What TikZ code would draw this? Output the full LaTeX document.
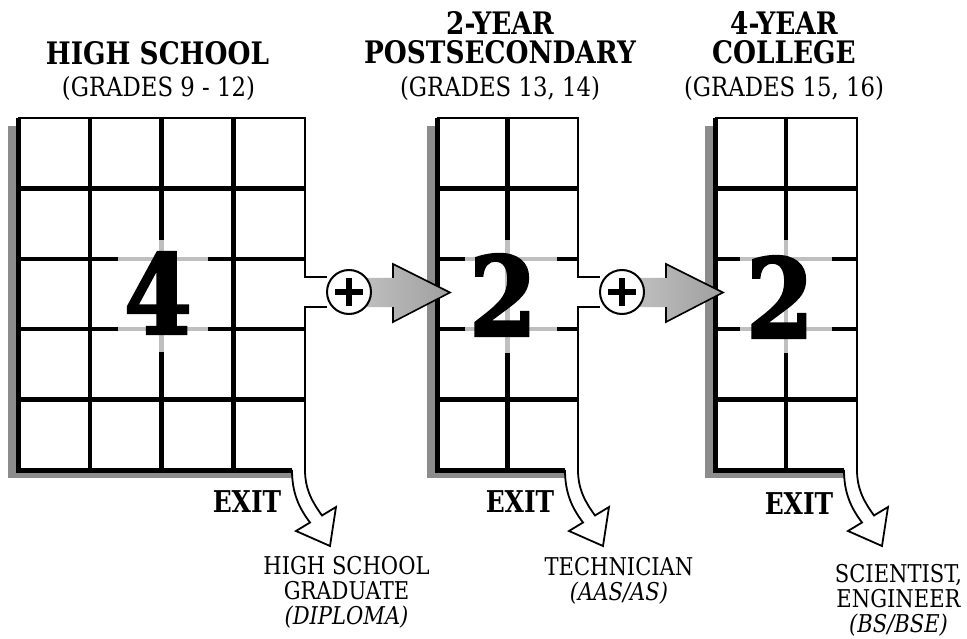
\documentclass[tikz,border=0pt]{standalone}
\usepackage{fontspec}
\setmainfont{DejaVu Serif}
\newfontfamily\headfont[FakeStretch=0.85]{DejaVu Serif}
\newfontfamily\gradefont[FakeStretch=0.86]{DejaVu Serif}
\newfontfamily\labelfont[FakeStretch=0.86]{DejaVu Serif}
\newfontfamily\exitfont[FakeStretch=0.83]{DejaVu Serif}
\newfontfamily\numfont[FakeStretch=0.88, FakeBold=2.5]{DejaVu Serif}

\begin{document}
\begin{tikzpicture}[
        x=1pt,
        y=-1pt,
        gridline/.style={line width=4.5pt},
        ghostline/.style={line width=4.5pt, black!25},
        heavyedge/.style={line width=5pt},
        thinedge/.style={line width=2pt},
        shadow/.style={fill=black!45},
        heading/.style={font=\headfont\bfseries\fontsize{31}{29}\selectfont, align=center, inner sep=0pt},
        grades/.style={font=\gradefont\fontsize{26.5}{30}\selectfont, inner sep=0pt},
        number/.style={font=\numfont\bfseries\fontsize{110}{110}\selectfont, inner sep=0pt},
        plus/.style={circle, draw, line width=2pt, fill=white, minimum size=44pt, inner sep=0pt},
        plusbar/.style={line width=6.5pt},
        headline/.style={line width=1.6pt, line join=miter},
        exitarrow/.style={fill=white, draw, line width=1.8pt, line join=miter},
        exitlabel/.style={font=\exitfont\bfseries\fontsize{30}{30}\selectfont, inner sep=0pt},
        outcome/.style={font=\labelfont\fontsize{24.5}{25}\selectfont, align=center, inner sep=0pt}
    ]
        \fill[white] (0,0) rectangle (967,639);
        \useasboundingbox (0,0) rectangle (967,639);

        % high school grid
        \fill[shadow] (8,126) rectangle (293,478);
        \fill[white] (18,118) rectangle (305,470);
        \foreach \x in {89.75,161.5,233.25} {
            \draw[gridline] (\x,118) -- (\x,470);
        }
        \foreach \y in {188.4,258.8,329.2,399.6} {
            \draw[gridline] (18,\y) -- (305,\y);
        }
        \fill[white] (118,240) rectangle (208,352);
        \draw[ghostline] (118,258.8) -- (208,258.8) (118,329.2) -- (208,329.2) (161.5,240) -- (161.5,352);
        \draw[thinedge] (18,118) -- (305,118) -- (305,277) -- (327,277);
        \draw[thinedge] (327,307) -- (305,307) -- (305,470);
        \draw[heavyedge] (292,470) -- (18,470) -- (18,118);
        \node[number] (hsnum) at (158,293) {4};

        % 2-year grid
        \fill[shadow] (427,126) rectangle (566,478);
        \fill[white] (437,118) rectangle (578,470);
        \draw[gridline] (507.5,118) -- (507.5,470);
        \foreach \y in {188.4,258.8,329.2,399.6} {
            \draw[gridline] (437,\y) -- (578,\y);
        }
        \fill[white] (465,240) rectangle (557,353);
        \draw[ghostline] (465,258.8) -- (557,258.8) (465,329.2) -- (557,329.2) (507.5,240) -- (507.5,353);
        \draw[thinedge] (437,118) -- (578,118) -- (578,277) -- (600,277);
        \draw[thinedge] (600,307) -- (578,307) -- (578,470);
        \draw[heavyedge] (565,470) -- (437,470) -- (437,118);
        \node[number] (tynum) at (503,295) {2};

        % 4-year grid
        \fill[shadow] (705,126) rectangle (844,478);
        \fill[white] (715,118) rectangle (857,470);
        \draw[gridline] (786,118) -- (786,470);
        \foreach \y in {188.4,258.8,329.2,399.6} {
            \draw[gridline] (715,\y) -- (857,\y);
        }
        \fill[white] (740,240) rectangle (832,353);
        \draw[ghostline] (740,258.8) -- (832,258.8) (740,329.2) -- (832,329.2) (786,240) -- (786,353);
        \draw[thinedge] (715,118) -- (857,118) -- (857,470);
        \draw[heavyedge] (844,470) -- (715,470) -- (715,118);
        \node[number] (fynum) at (780,297) {2};

        % exits
        \foreach \ox in {305,578,857} {
            \draw[exitarrow] (\ox-13,470) .. controls (\ox-13,493) and (\ox-6,508) .. (\ox+5,522.5)
                -- (\ox-9,531) -- (\ox+25,546) -- (\ox+31,507) -- (\ox+17,515.5)
                .. controls (\ox+8,503) and (\ox,490) .. (\ox,470);
        }

        % plus arrows
        \foreach \ox/\n in {305/1,578/2} {
            \shade[left color=gray!45, right color=gray!75] (\ox+40,278) -- (\ox+88,278) -- (\ox+88,264)
                -- (\ox+145,292.5) -- (\ox+88,322) -- (\ox+88,307) -- (\ox+40,307) -- cycle;
            \draw[headline] (\ox+88,278) -- (\ox+88,264) -- (\ox+145,292.5) -- (\ox+88,322) -- (\ox+88,307);
            \node[plus] (join\n) at (\ox+44,292) {};
            \draw[plusbar] ([xshift=-14pt]join\n.center) -- ([xshift=14pt]join\n.center);
            \draw[plusbar] ([yshift=-14pt]join\n.center) -- ([yshift=14pt]join\n.center);
        }

        % headings
        \node[heading] (hshead) at (157.5,53.5) {HIGH SCHOOL};
        \node[grades] (hsgrades) at (158.5,88.5) {(GRADES 9 - 12)};
        \node[heading] (tyhead) at (500,38) {2-YEAR\\POSTSECONDARY};
        \node[grades] (tygrades) at (500,88) {(GRADES 13, 14)};
        \node[heading] (fyhead) at (784,38) {4-YEAR\\COLLEGE};
        \node[grades] (fygrades) at (784,88) {(GRADES 15, 16)};

        \node[exitlabel] (hsexit) at (247,502) {EXIT};
        \node[exitlabel] (tyexit) at (520,502) {EXIT};
        \node[exitlabel] (fyexit) at (799,504) {EXIT};

        \node[outcome] (hsout) at (346.5,592) {HIGH SCHOOL\\GRADUATE\\\textit{(DIPLOMA)}};
        \node[outcome] (tyout) at (619,581) {TECHNICIAN\\\textit{(AAS/AS)}};
        \node[outcome] (fyout) at (898.5,600) {SCIENTIST,\\ENGINEER\\\textit{(BS/BSE)}};
    \end{tikzpicture}
\end{document}
